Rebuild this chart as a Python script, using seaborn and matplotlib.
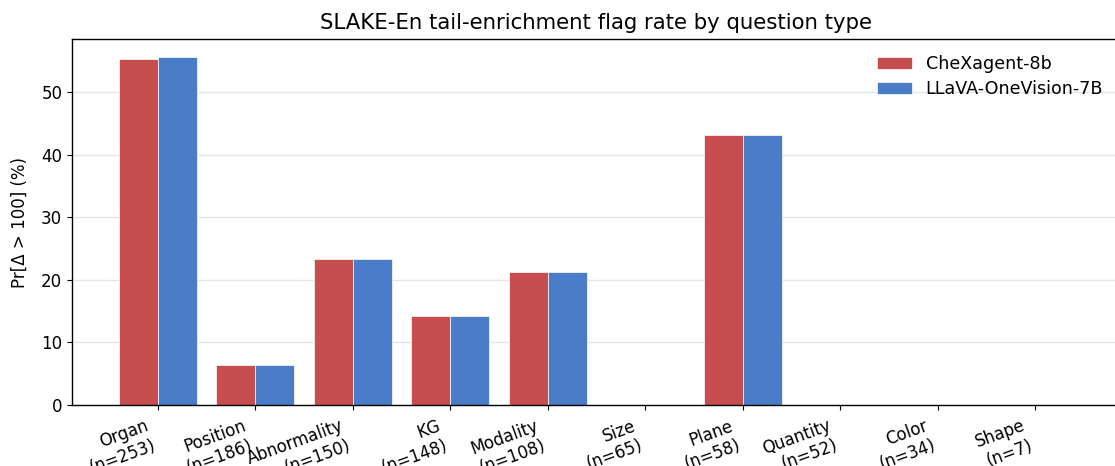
import matplotlib
matplotlib.use("Agg")
import matplotlib.pyplot as plt
import seaborn as sns
import pandas as pd

categories = ["Organ", "Position", "Abnormality", "KG", "Modality", "Size", "Plane", "Quantity", "Color", "Shape"]
counts = [253, 186, 150, 148, 108, 65, 58, 52, 34, 7]
models = ["CheXagent-8b", "LLaVA-OneVision-7B"]
chexagent = [55.3, 6.45, 23.3, 14.2, 21.3, 0.0, 43.1, 0.0, 0.0, 0.0]
llava = [55.7, 6.45, 23.3, 14.2, 21.3, 0.0, 43.1, 0.0, 0.0, 0.0]
tick_labels = [f"{c}\n(n={n})" for c, n in zip(categories, counts)]

df = pd.DataFrame({
    "category": categories * 2,
    "model": [models[0]] * len(categories) + [models[1]] * len(categories),
    "rate": chexagent + llava,
})

sns.set_theme(style="ticks", rc={"text.color": "black", "axes.labelcolor": "black",
                                 "xtick.color": "black", "ytick.color": "black",
                                 "axes.edgecolor": "black",
                                 "xtick.major.size": 3.5, "ytick.major.size": 3.5,
                                 "xtick.major.width": 0.8, "ytick.major.width": 0.8,
                                 "axes.linewidth": 1.0})
plt.rcParams["font.family"] = ["DejaVu Sans"]

fig = plt.figure(figsize=(11.15, 4.66), dpi=100)
ax = fig.add_axes([72 / 1115, 61 / 466, (1121 - 72) / 1115, (405 - 39) / 466])

palette = {models[0]: "#C64E4E", models[1]: "#4A7CC8"}
sns.barplot(data=df, x="category", y="rate", hue="model", order=categories,
            hue_order=models, palette=palette, ax=ax, width=0.8,
            edgecolor="white", linewidth=0.5, saturation=1)

ax.set_xlim(-0.88, 9.88)
ax.set_ylim(0, 58.5)
ax.set_yticks([0, 10, 20, 30, 40, 50])
ax.yaxis.grid(True, color="#e6e6e6", linewidth=1)
ax.set_axisbelow(True)
ax.set_xticks(range(len(categories)))
ax.set_xticklabels(tick_labels, rotation=20, ha="right", multialignment="right", fontsize=12)
ax.tick_params(axis="y", labelsize=12)
ax.tick_params(axis="x", pad=5)
ax.set_xlabel("")
ax.set_ylabel("Pr[Δ > 100] (%)", fontsize=12, labelpad=9)
ax.set_title("SLAKE-En tail-enrichment flag rate by question type", fontsize=15.3, pad=7)
ax.legend(loc="upper right", bbox_to_anchor=(0.998, 1.0), frameon=False, fontsize=12.6,
          labelspacing=0.4)

fig.savefig("out.png", dpi=100)
